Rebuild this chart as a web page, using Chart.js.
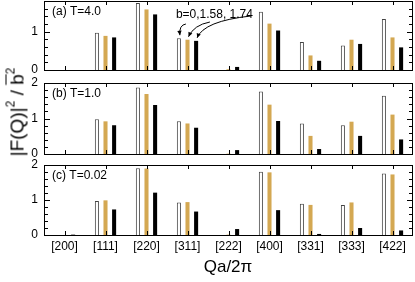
<!DOCTYPE html>
<html>
<head>
<meta charset="utf-8">
<script src="https://cdn.jsdelivr.net/npm/chart.js@4.4.1/dist/chart.umd.min.js"></script>
<style>
  body { margin: 0; background: #fff; font-family: "Liberation Sans", Arial, sans-serif; }
  #wrap { position: relative; width: 415px; height: 282px; overflow: hidden; }
  canvas { position: absolute; left: 0; }
  #ylab { position: absolute; left: 16px; top: 112px; transform: translate(-50%, -50%) rotate(-90deg);
          font-size: 19px; white-space: nowrap; color: #000; }
  #ylab sup { font-size: 12px; vertical-align: 9px; }
  .ob { text-decoration: overline; }
  #xlab { position: absolute; left: 228px; top: 267px; transform: translate(-50%, -50%);
          font-size: 17px; white-space: nowrap; color: #000; }
</style>
</head>
<body>
<div id="wrap">
  <canvas id="chartA" width="415" height="78" style="top:0px"></canvas>
  <canvas id="chartB" width="415" height="87" style="top:75px"></canvas>
  <canvas id="chartC" width="415" height="98" style="top:157px"></canvas>
  <div id="ylab">|F(Q)|<sup>2</sup> / <span class="ob">b</span><sup>2</sup></div>
  <div id="xlab">Qa/2&pi;</div>
</div>
<script>
// reflections
const categories = ['[200]', '[111]', '[220]', '[311]', '[222]', '[400]', '[331]', '[333]', '[422]'];
const seriesNames = ['b=0', 'b=1.58', 'b=1.74'];

// (a) T=4.0
const tA_b0   = [0, 0.97, 1.75, 0.83, 0,    1.52, 0.73, 0.64, 1.33];
const tA_b158 = [0, 0.89, 1.58, 0.79, 0.02, 1.21, 0.38, 0.79, 0.85];
const tA_b174 = [0, 0.85, 1.45, 0.76, 0.08, 1.03, 0.24, 0.68, 0.59];

// (b) T=1.0
const tB_b0   = [0, 0.98, 1.87, 0.92, 0,    1.76, 0.86, 0.81, 1.64];
const tB_b158 = [0, 0.92, 1.69, 0.86, 0.01, 1.39, 0.51, 0.91, 1.11];
const tB_b174 = [0, 0.81, 1.38, 0.74, 0.11, 0.93, 0.14, 0.51, 0.41];

// (c) T=0.02
const tC_b0   = [0, 0.97, 1.91, 0.93, 0,    1.81, 0.89, 0.86, 1.76];
const tC_b158 = [0, 0.99, 1.90, 0.94, 0.01, 1.79, 0.86, 0.93, 1.73];
const tC_b174 = [0.01, 0.73, 1.21, 0.67, 0.17, 0.71, 0.03, 0.20, 0.13];

const FONT = '"Liberation Sans", Arial, sans-serif';
const TAN = '#d4a852';

// frame + inward ticks + panel label
const framePlugin = {
    id: 'frame',
    afterDraw(chart, args, opts) {
        const ctx = chart.ctx;
        const a = chart.chartArea;
        const y = chart.scales.y, x = chart.scales.x;
        ctx.save();
        ctx.strokeStyle = '#000';
        ctx.lineWidth = 1;
        ctx.strokeRect(Math.round(a.left) + 0.5, Math.round(a.top) + 0.5,
            Math.round(a.right - a.left) - 1, Math.round(a.bottom - a.top));
        ctx.beginPath();
        for (let i = 0; i * 0.2 <= y.max + 1e-6; i++) {
            const py = Math.round(y.getPixelForValue(i * 0.2)) + 0.5;
            const len = (i % 5 === 0) ? 6 : 4;
            ctx.moveTo(a.left, py); ctx.lineTo(a.left + len, py);
            ctx.moveTo(a.right, py); ctx.lineTo(a.right - len, py);
        }
        categories.forEach((c, i) => {
            const px = Math.round(x.getPixelForValue(i)) + 0.5;
            ctx.moveTo(px, a.bottom); ctx.lineTo(px, a.bottom - 4);
            ctx.moveTo(px, a.top); ctx.lineTo(px, a.top + 4);
        });
        ctx.stroke();
        ctx.fillStyle = '#000';
        ctx.font = '12px ' + FONT;
        ctx.textBaseline = 'middle';
        ctx.fillText(opts.text, a.left + 8, a.top + 11);
        ctx.restore();
    }
};

// "b=0,1.58, 1.74" note with curved arrows to the [311] bars
const notePlugin = {
    id: 'note',
    afterDraw(chart, args, opts) {
        if (!opts.show) return;
        const ctx = chart.ctx;
        const idx = categories.indexOf('[311]');
        const bars = [0, 1, 2].map(d => chart.getDatasetMeta(d).data[idx]);
        const x0 = bars[0].x;
        ctx.save();
        ctx.fillStyle = '#000';
        ctx.strokeStyle = '#000';
        ctx.lineWidth = 1;
        ctx.font = '12px ' + FONT;
        ctx.textBaseline = 'alphabetic';
        ctx.fillText('b=0,1.58, 1.74', x0 - 3, 17.5);
        const arrows = [
            { s: [x0 + 7, 24], c: [x0, 25], b: bars[0] },
            { s: [x0 + 31, 22], c: [x0 + 15, 25], b: bars[1] },
            { s: [x0 + 72, 16], c: [x0 + 25, 21], b: bars[2] }
        ];
        arrows.forEach(ar => {
            const ex = ar.b.x + 1, ey = ar.b.y - 3;
            ctx.beginPath();
            ctx.moveTo(ar.s[0], ar.s[1]);
            ctx.quadraticCurveTo(ar.c[0], ar.c[1], ex, ey);
            ctx.stroke();
            const ang = Math.atan2(ey - ar.c[1], ex - ar.c[0]);
            ctx.beginPath();
            ctx.moveTo(ex, ey);
            ctx.lineTo(ex - 5 * Math.cos(ang - 0.45), ey - 5 * Math.sin(ang - 0.45));
            ctx.lineTo(ex - 5 * Math.cos(ang + 0.45), ey - 5 * Math.sin(ang + 0.45));
            ctx.closePath();
            ctx.fill();
        });
        ctx.restore();
    }
};

function makePanel(id, b0, b158, b174, ymax, label, pad, showX) {
    const ctx = document.getElementById(id).getContext('2d');
    return new Chart(ctx, {
        type: 'bar',
        data: {
            labels: categories,
            datasets: [
                { label: seriesNames[0], data: b0, backgroundColor: '#fff', borderColor: '#444', borderWidth: 1 },
                { label: seriesNames[1], data: b158, backgroundColor: TAN, borderWidth: 0 },
                { label: seriesNames[2], data: b174, backgroundColor: '#000', borderWidth: 0 }
            ]
        },
        options: {
            responsive: false,
            animation: false,
            devicePixelRatio: 1,
            categoryPercentage: 0.63,
            barPercentage: 0.47,
            layout: { padding: pad },
            plugins: {
                legend: { display: false },
                tooltip: { enabled: false },
                frame: { text: label },
                note: { show: id === 'chartA' }
            },
            scales: {
                x: {
                    display: showX,
                    offset: true,
                    grid: { display: false, drawTicks: false },
                    border: { display: false },
                    ticks: { color: '#000', font: { size: 12, family: FONT }, padding: 4, maxRotation: 0, autoSkip: false },
                    afterFit: s => { if (showX) s.height = 20; }
                },
                y: {
                    min: 0,
                    max: ymax,
                    grid: { display: false, drawTicks: false },
                    border: { display: false },
                    ticks: { stepSize: 1, color: '#000', font: { size: 12, family: FONT }, padding: 6 },
                    afterBuildTicks: s => { s.ticks = s.ticks.filter(t => Number.isInteger(t.value)); },
                    afterFit: s => { s.width = 44; s.paddingTop = 0; s.paddingBottom = 0; }
                }
            }
        },
        plugins: [framePlugin, notePlugin]
    });
}

makePanel('chartA', tA_b0, tA_b158, tA_b174, 1.8, '(a) T=4.0', { top: 1, bottom: 8, right: 2, left: 0 }, false);
makePanel('chartB', tB_b0, tB_b158, tB_b174, 2, '(b) T=1.0', { top: 8, bottom: 8, right: 2, left: 0 }, false);
makePanel('chartC', tC_b0, tC_b158, tC_b174, 2, '(c) T=0.02', { top: 8, bottom: 0, right: 2, left: 0 }, true);
</script>
</body>
</html>
